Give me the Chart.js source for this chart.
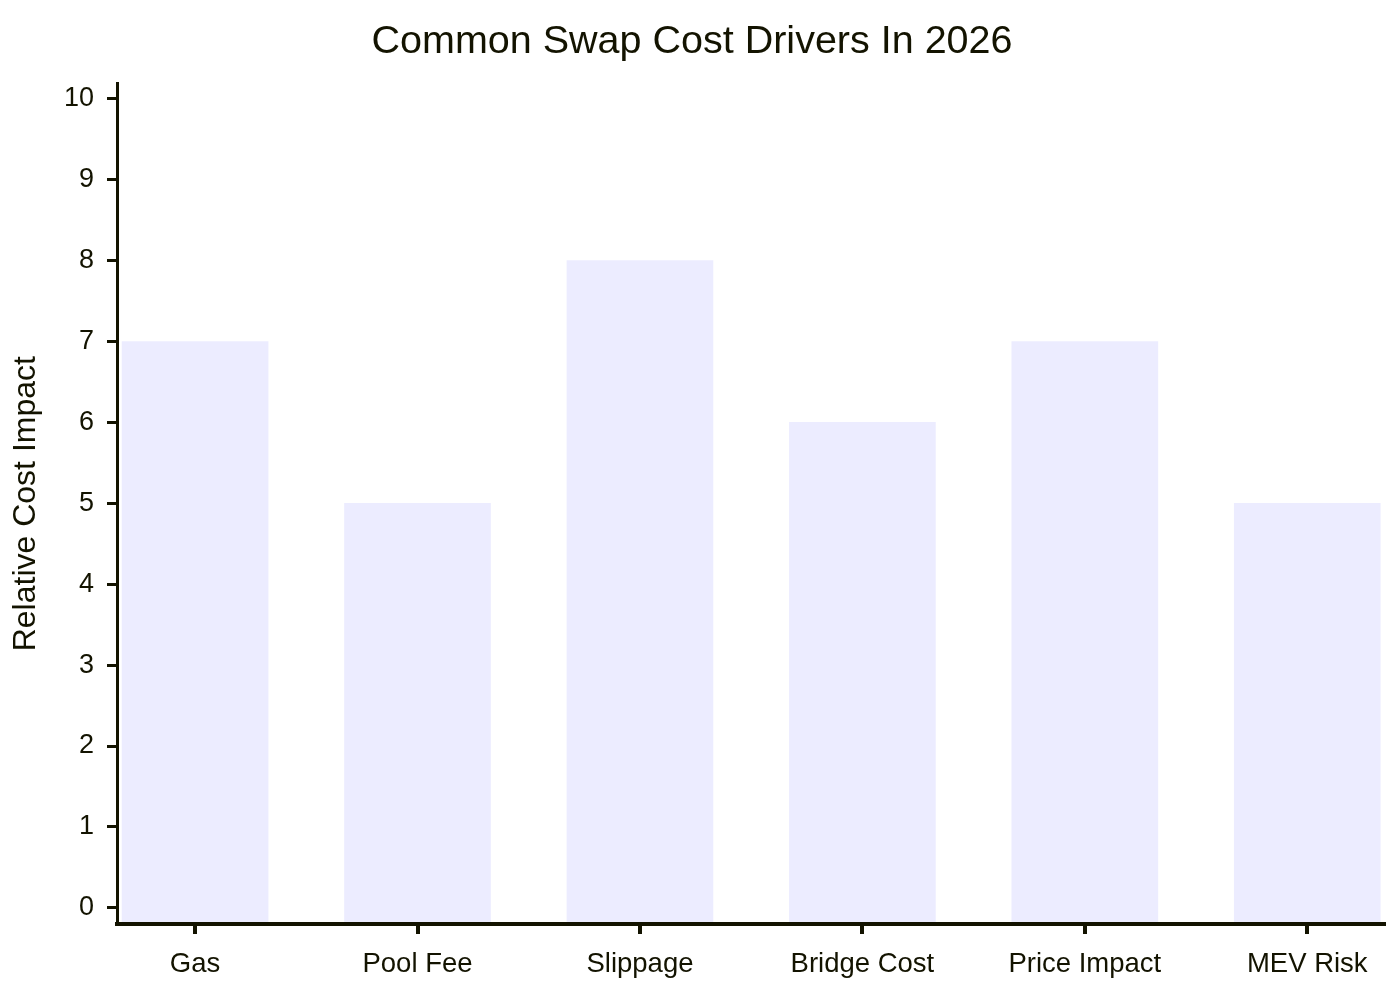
<!DOCTYPE html>
<html>
<head>
<meta charset="utf-8">
<script src="https://cdn.jsdelivr.net/npm/chart.js@4"></script>
<style>
  html, body { margin: 0; padding: 0; background: #fff; }
  #wrap { width: 1400px; height: 1000px; }
</style>
</head>
<body>
<div id="wrap"><canvas id="chart" width="1400" height="1000"></canvas></div>
<script>
const categories = ["Gas", "Pool Fee", "Slippage", "Bridge Cost", "Price Impact", "MEV Risk"];
const costImpact = [7, 5, 8, 6, 7, 5];
const yTicks = [0, 1, 2, 3, 4, 5, 6, 7, 8, 9, 10];

const ink = "#131300";
const barColor = "#ECECFF";
const yMin = -0.2;
const barBase = -0.17; // bars stop just above the x axis line
const fontFamily = 'Liberation Sans, Arial, sans-serif';

const ctx = document.getElementById('chart').getContext('2d');
const chart = new Chart(ctx, {
  type: 'bar',
  data: {
    datasets: [{
      data: categories.map((c, i) => ({ x: i, y: costImpact[i] })),
      backgroundColor: barColor,
      borderWidth: 0,
      barThickness: 146,
      base: barBase
    }]
  },
  options: {
    responsive: false,
    animation: false,
    layout: { padding: { left: 0, right: 16, top: 0, bottom: 0 } },
    plugins: {
      legend: { display: false },
      tooltip: { enabled: false },
      title: {
        display: true,
        text: 'Common Swap Cost Drivers In 2026',
        color: ink,
        font: { family: fontFamily, size: 39.5, weight: 'normal' },
        padding: { top: 18, bottom: 18 }
      }
    },
    scales: {
      x: {
        type: 'linear',
        offset: false,
        min: -0.351,
        max: 5.345,
        afterBuildTicks: axis => { axis.ticks = categories.map((c, i) => ({ value: i })); },
        afterFit: axis => { axis.height = 76; },
        ticks: {
          callback: v => categories[v],
          color: ink,
          padding: 14,
          font: { family: fontFamily, size: 27.5 }
        },
        grid: { offset: false, drawOnChartArea: false, drawTicks: true, tickLength: 10, lineWidth: 4, color: ink },
        border: { color: ink, width: 4 }
      },
      y: {
        min: yMin,
        max: 10.19,
        afterBuildTicks: axis => { axis.ticks = yTicks.map(v => ({ value: v })); },
        afterFit: axis => { axis.width = 117; },
        ticks: {
          color: ink,
          padding: 13,
          font: { family: fontFamily, size: 27 }
        },
        title: {
          display: true,
          text: 'Relative Cost Impact',
          color: ink,
          padding: { top: 7, bottom: 0 },
          font: { family: fontFamily, size: 32 }
        },
        grid: { drawOnChartArea: false, drawTicks: true, tickLength: 10, lineWidth: 3, color: ink },
        border: { color: ink, width: 3 }
      }
    }
  }
});
</script>
</body>
</html>
